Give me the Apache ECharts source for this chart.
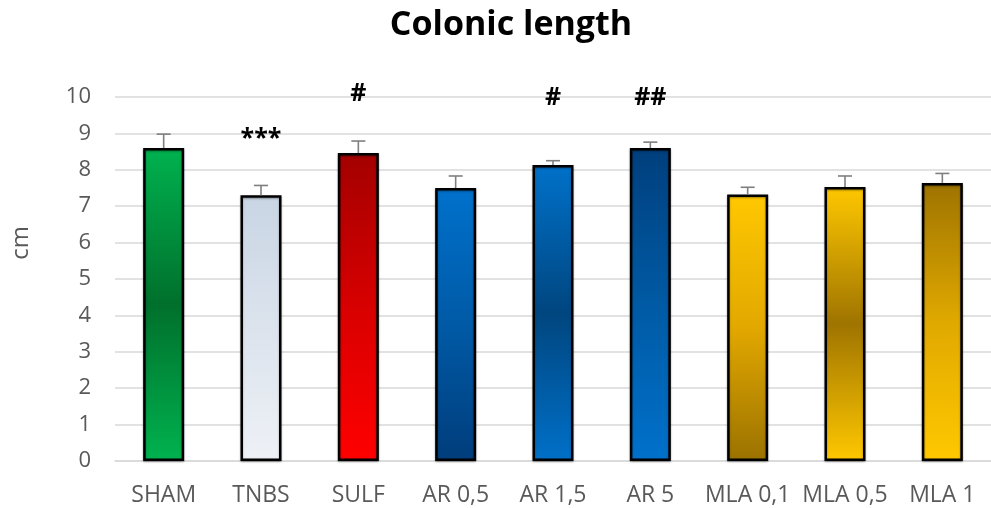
<!DOCTYPE html>
<html><head><meta charset="utf-8">
<script src="https://cdn.jsdelivr.net/npm/echarts@6/dist/echarts.min.js"></script>
<style>html,body{margin:0;padding:0;background:#fff}#c{width:991px;height:508px}</style>
</head><body><div id="c"></div>
<script>
// ---- data ----
const categories = ['SHAM', 'TNBS', 'SULF', 'AR 0,5', 'AR 1,5', 'AR 5', 'MLA 0,1', 'MLA 0,5', 'MLA 1'];
const means = [8.60, 7.30, 8.46, 7.50, 8.13, 8.60, 7.32, 7.53, 7.64];
const errors = [0.38, 0.27, 0.33, 0.33, 0.12, 0.16, 0.20, 0.30, 0.26];
const marks = ['', '***', '#', '', '#', '##', '', '', ''];
const markLevels = [null, 8.86, 10.08, null, 9.98, 9.98, null, null, null];
const yMin = 0, yMax = 10, yStep = 1;

// ---- styles ----
function lg(stops) {
  return new echarts.graphic.LinearGradient(0, 0, 0, 1, stops.map((c, i) => ({offset: i / (stops.length - 1), color: c})));
}
const fills = [
  lg(['#00b24f', '#00702c', '#00b24f']),
  lg(['#c9d5e4', '#eef1f6']),
  lg(['#a30000', '#d80000', '#ff0000']),
  lg(['#0071cc', '#005aa6', '#003d7b']),
  lg(['#0071c9', '#00467f', '#0070c8']),
  lg(['#003f7d', '#005aa4', '#0071cb']),
  lg(['#ffc800', '#e2a800', '#9b7200']),
  lg(['#ffc800', '#9f7400', '#ffc800']),
  lg(['#9e7300', '#e0a900', '#ffc800'])
];
const txt = '#595959';
const font = 'Open Sans';

const chart = echarts.init(document.getElementById('c'), null, {renderer: 'canvas'});
chart.setOption({
  animation: false,
  backgroundColor: '#fff',
  title: {
    text: 'Colonic length', left: 506, top: 3, textAlign: 'center',
    textStyle: {fontFamily: font, fontWeight: 'bold', fontSize: 34, color: '#000'}
  },
  graphic: [{
    type: 'text', left: 9, top: 226, rotation: Math.PI / 2,
    style: {text: 'cm', fontFamily: font, fontSize: 24, fill: txt}
  }],
  grid: {left: 115, top: 97, width: 889, height: 364, containLabel: false},
  xAxis: {
    type: 'category', data: categories,
    axisLine: {show: true, lineStyle: {color: '#d9d9d9', width: 1.5}},
    axisTick: {show: false},
    axisLabel: {interval: 0, color: txt, fontFamily: font, fontSize: 23, margin: 23}
  },
  yAxis: {
    type: 'value', min: yMin, max: yMax, interval: yStep,
    axisLine: {show: false}, axisTick: {show: false},
    axisLabel: {color: txt, fontFamily: font, fontSize: 22, margin: 24},
    splitLine: {lineStyle: {color: '#d9d9d9', width: 1.5}}
  },
  series: [{
    type: 'bar', barWidth: 41,
    data: means.map((v, i) => ({value: v, itemStyle: {color: fills[i]}})),
    itemStyle: {borderColor: '#000', borderWidth: 2.5, shadowColor: 'rgba(0,0,0,0.35)', shadowBlur: 2, shadowOffsetY: 1}
  }, {
    type: 'custom', z: 5,
    data: means.map((v, i) => [i, v, errors[i]]),
    renderItem: function (params, api) {
      const i = api.value(0), v = api.value(1), e = api.value(2);
      const base = api.coord([i, v]);
      const top = api.coord([i, v + e]);
      const hw = 7;
      return {
        type: 'group', children: [
          {type: 'line', shape: {x1: base[0], y1: base[1], x2: top[0], y2: top[1]}, style: {stroke: '#7f7f7f', lineWidth: 1.6}},
          {type: 'line', shape: {x1: top[0] - hw, y1: top[1], x2: top[0] + hw, y2: top[1]}, style: {stroke: '#7f7f7f', lineWidth: 1.6}}
        ]
      };
    }
  }, {
    type: 'custom', z: 6,
    data: markLevels.map((m, i) => [i, m == null ? NaN : m, i]),
    renderItem: function (params, api) {
      const i = api.value(0), m = api.value(1);
      if (isNaN(m)) return null;
      const p = api.coord([i, m]);
      return {
        type: 'text', x: p[0], y: p[1],
        style: {text: marks[api.value(2)], fontFamily: font, fontWeight: 'bold', fontSize: 25, fill: '#000', align: 'center', verticalAlign: 'middle'}
      };
    }
  }]
});
</script>
</body></html>
